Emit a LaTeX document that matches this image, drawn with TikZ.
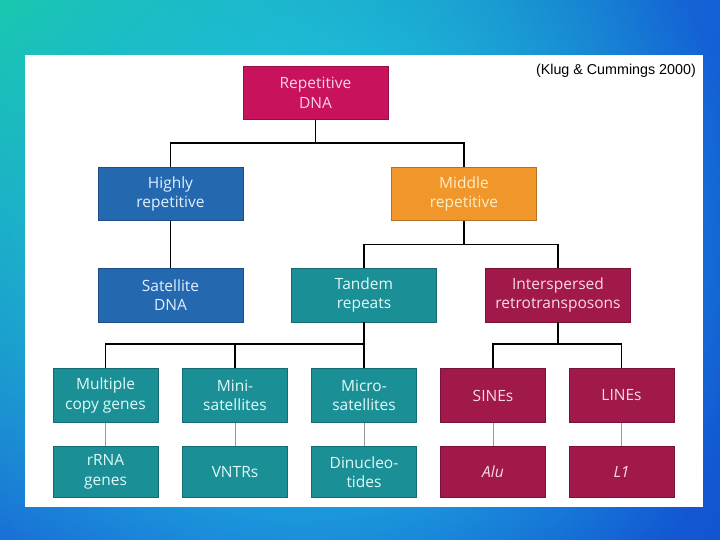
\documentclass[tikz,border=0pt]{standalone}
\usepackage{fontspec}
\setmainfont{Open Sans}
\newfontfamily\citefont{Liberation Sans}
\usetikzlibrary{fadings,shadings}
\definecolor{bgUL}{RGB}{25,200,170}
\definecolor{bgUR}{RGB}{20,95,215}
\definecolor{bgLL}{RGB}{25,105,215}
\definecolor{bgLR}{RGB}{18,85,210}
\definecolor{glow}{RGB}{35,215,230}
\definecolor{cMag}{RGB}{200,18,92}
\definecolor{cBlue}{RGB}{36,104,176}
\definecolor{cOrange}{RGB}{240,150,42}
\definecolor{cTeal}{RGB}{26,143,150}
\definecolor{cRed}{RGB}{160,25,74}
\definecolor{tMag}{RGB}{250,210,228}
\definecolor{tBlue}{RGB}{225,240,255}
\definecolor{tOrange}{RGB}{255,238,195}
\definecolor{tTeal}{RGB}{225,250,250}
\definecolor{tRed}{RGB}{250,218,230}
\tikzfading[name=glowfade, inner color=transparent!0, outer color=transparent!100]
\tikzset{
  x=1pt, y=-1pt,
  box/.style={rectangle, inner sep=0pt, align=center, font=\fontsize{15.5}{19.5}\selectfont,
              draw=#1!75!black, line width=0.6pt, fill=#1},
  bigbox/.style={box=#1, minimum width=145pt, minimum height=53pt},
  smallbox/.style={box=#1, minimum width=105pt, minimum height=53pt},
  conn/.style={draw=black, line width=1.6pt, line join=miter},
  thin/.style={draw=black!40, line width=0.8pt},
}
\begin{document}
\begin{tikzpicture}
\useasboundingbox (0,0) rectangle (720,540);
\shade[upper left=bgUL, upper right=bgUR, lower left=bgLL, lower right=bgLR] (0,0) rectangle (720,540);
\fill[glow, path fading=glowfade] (-120,-200) rectangle (760,720);
\fill[white] (25,55) rectangle (703,507);

\node[font=\citefont\fontsize{14.3}{16}\selectfont, anchor=east, inner sep=0pt] (cite) at (696,71) {(Klug \& Cummings 2000)};

\node[bigbox=cMag, text=tMag] (rep) at (315.5,93) {Repetitive\\DNA};
\node[bigbox=cBlue, text=tBlue] (hi) at (170.5,194) {Highly\\repetitive};
\node[bigbox=cOrange, text=tOrange] (mid) at (464,194) {Middle\\repetitive};
\node[bigbox=cBlue, text=tBlue, minimum height=54pt] (sat) at (170.5,295) {Satellite\\DNA};
\node[bigbox=cTeal, text=tTeal, minimum height=54pt] (tan) at (364,295) {Tandem\\repeats};
\node[bigbox=cRed, text=tRed, minimum height=54pt] (int) at (558,295) {Interspersed\\retrotransposons};

\node[smallbox=cTeal, text=tTeal, minimum height=54pt] (mul) at (105.5,395.5) {Multiple\\copy genes};
\node[smallbox=cTeal, text=tTeal, minimum height=54pt] (mini) at (235,395.5) {Mini-\\satellites};
\node[smallbox=cTeal, text=tTeal, minimum height=54pt] (micro) at (364,395.5) {Micro-\\satellites};
\node[smallbox=cRed, text=tRed, minimum height=54pt] (sine) at (493,395.5) {SINEs};
\node[smallbox=cRed, text=tRed, minimum height=54pt] (line) at (621.5,395.5) {LINEs};

\node[smallbox=cTeal, text=tTeal, minimum height=51pt] (rrna) at (105.5,472) {rRNA\\genes};
\node[smallbox=cTeal, text=tTeal, minimum height=51pt] (vntr) at (235,472) {VNTRs};
\node[smallbox=cTeal, text=tTeal, minimum height=51pt] (dinu) at (364,472) {Dinucleo-\\tides};
\node[smallbox=cRed, text=tRed, minimum height=51pt] (alu) at (493,472) {\itshape Alu};
\node[smallbox=cRed, text=tRed, minimum height=51pt] (l1) at (621.5,472) {\itshape L1};

\coordinate (j1) at (315.5,143);
\coordinate (j2) at (464,244.5);
\coordinate (j3) at (364,344);
\coordinate (j4) at (558,344);

\draw[conn] (rep.south) -- (j1);
\draw[conn] (hi.north) |- (j1) -| (mid.north);
\draw[conn] (hi.south) -- (sat.north);
\draw[conn] (mid.south) -- (j2);
\draw[conn] (tan.north) |- (j2) -| (int.north);
\draw[conn] (tan.south) -- (micro.north);
\draw[conn] (mul.north) |- (j3);
\draw[conn] (mini.north) -- (mini.north |- j3);
\draw[conn] (int.south) -- (j4);
\draw[conn] (sine.north) |- (j4) -| (line.north);

\draw[thin] (mul.south) -- (rrna.north);
\draw[thin] (mini.south) -- (vntr.north);
\draw[thin] (micro.south) -- (dinu.north);
\draw[thin] (sine.south) -- (alu.north);
\draw[thin] (line.south) -- (l1.north);
\end{tikzpicture}
\end{document}
